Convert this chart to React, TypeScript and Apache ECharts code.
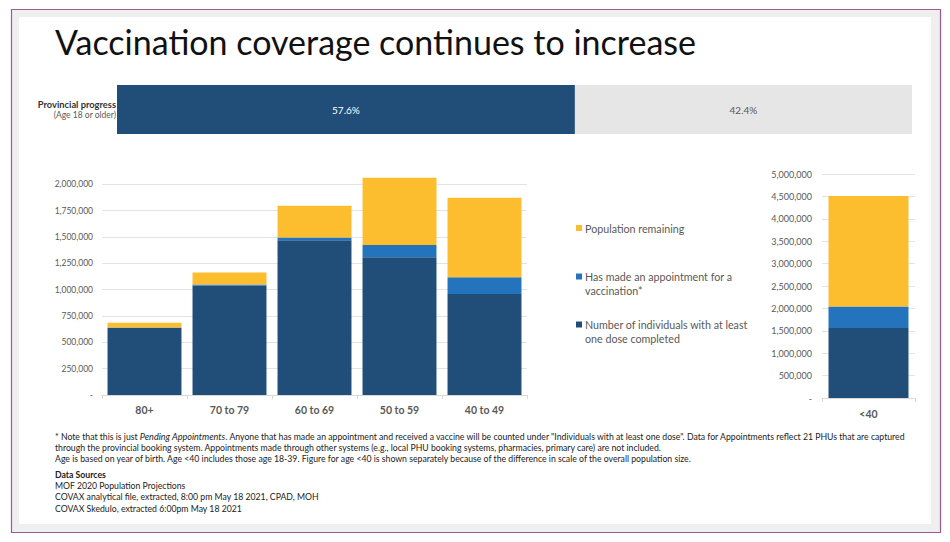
import React, { useEffect, useRef } from 'react';
import * as echarts from 'echarts';

// ---- Data ----
const ageGroups = ['80+', '70 to 79', '60 to 69', '50 to 59', '40 to 49'];
const dosed = [635000, 1040000, 1470000, 1308000, 960000];
const appointments = [6000, 8000, 25000, 117000, 158000];
const remaining = [44000, 114000, 302000, 638000, 755000];

const youngGroup = ['<40'];
const youngDosed = [1560000];
const youngAppointments = [480000];
const youngRemaining = [2470000];

const progressCategory = ['Provincial progress'];
const progressDone = [57.6];
const progressLeft = [42.4];

const seriesNames = [
  'Number of individuals with at least one dose completed',
  'Has made an appointment for a vaccination*',
  'Population remaining',
];

const legendLines: string[][] = [
  ['Population remaining'],
  ['Has made an appointment for a', 'vaccination*'],
  ['Number of individuals with at least', 'one dose completed'],
];

const footLines = [
  'through the provincial booking system. Appointments made through other systems (e.g., local PHU booking systems, pharmacies, primary care) are not included.',
  'Age is based on year of birth. Age <40 includes those age 18-39. Figure for age <40 is shown separately because of the difference in scale of the overall population size.',
];
const sourceLines = [
  'MOF 2020 Population Projections',
  'COVAX analytical file, extracted, 8:00 pm May 18 2021, CPAD, MOH',
  'COVAX Skedulo, extracted 6:00pm May 18 2021',
];

// ---- Style ----
const FONT = 'Lato, "Open Sans", sans-serif';
const NAVY = '#214e78';
const BLUE = '#2474bd';
const YELLOW = '#fcbd2e';
const LIGHT = '#e6e6e6';
const GREY_TEXT = '#595959';
const GRID_LINE = '#e3e3e3';
const FOOT = 8.7;

const fmt = (v: number) => (v === 0 ? '-' : v.toLocaleString('en-US'));

export default function App() {
  const ref = useRef<HTMLDivElement>(null);

  useEffect(() => {
    if (!ref.current) return;
    const chart = echarts.init(ref.current, undefined, { renderer: 'svg' });

    const colors = [NAVY, BLUE, YELLOW];
    const mainData = [dosed, appointments, remaining];
    const youngData = [youngDosed, youngAppointments, youngRemaining];

    const mainSplitColors = Array.from({ length: 10 }, (_, i) => (i === 9 ? 'rgba(0,0,0,0)' : GRID_LINE));

    const legendGraphic: any[] = [];
    const legendTops = [228, 276.5, 324.5];
    legendLines.forEach((lines, i) => {
      const color = [YELLOW, BLUE, NAVY][i];
      legendGraphic.push({
        type: 'rect',
        shape: { x: 576, y: legendTops[i] - 3, width: 6, height: 6 },
        style: { fill: color },
      });
      lines.forEach((t, j) => {
        legendGraphic.push({
          type: 'text',
          x: 585,
          y: legendTops[i] + j * 13.5,
          style: { text: t, fill: GREY_TEXT, font: `10.7px ${FONT}`, textVerticalAlign: 'middle' },
        });
      });
    });

    const option: any = {
      animation: false,
      textStyle: { fontFamily: FONT },
      grid: [
        { left: 102, top: 158, width: 425, height: 237 },
        { left: 822, top: 174, width: 93, height: 224 },
        { left: 117, top: 85, width: 795, height: 49 },
      ],
      xAxis: [
        {
          type: 'category',
          gridIndex: 0,
          data: ageGroups,
          axisLine: { lineStyle: { color: '#d9d9d9' } },
          axisTick: { show: true, length: 4, lineStyle: { color: '#d9d9d9' } },
          axisLabel: { color: GREY_TEXT, fontSize: 10.5, fontWeight: 'bold', margin: 9, fontFamily: FONT },
        },
        {
          type: 'category',
          gridIndex: 1,
          data: youngGroup,
          axisLine: { lineStyle: { color: '#d9d9d9' } },
          axisTick: { show: true, length: 4, lineStyle: { color: '#d9d9d9' } },
          axisLabel: { color: GREY_TEXT, fontSize: 10.5, fontWeight: 'bold', margin: 10, fontFamily: FONT },
        },
        { type: 'value', gridIndex: 2, min: 0, max: 100, show: false },
      ],
      yAxis: [
        {
          type: 'value',
          gridIndex: 0,
          min: 0,
          max: 2250000,
          interval: 250000,
          axisLine: { show: false },
          axisTick: { show: false },
          splitLine: { lineStyle: { color: mainSplitColors } },
          axisLabel: {
            color: GREY_TEXT,
            fontSize: 8.5,
            margin: 9,
            fontFamily: FONT,
            formatter: (v: number) => (v >= 2250000 ? '' : fmt(v)),
          },
        },
        {
          type: 'value',
          gridIndex: 1,
          min: 0,
          max: 5000000,
          interval: 500000,
          axisLine: { show: false },
          axisTick: { show: false },
          splitLine: { lineStyle: { color: GRID_LINE } },
          axisLabel: { color: GREY_TEXT, fontSize: 9, margin: 10, fontFamily: FONT, formatter: fmt },
        },
        { type: 'category', gridIndex: 2, data: progressCategory, show: false },
      ],
      series: [
        ...mainData.map((d, i) => ({
          name: seriesNames[i],
          type: 'bar',
          stack: 'main',
          xAxisIndex: 0,
          yAxisIndex: 0,
          data: d,
          barCategoryGap: '13%',
          itemStyle: { color: colors[i] },
        })),
        ...youngData.map((d, i) => ({
          name: seriesNames[i],
          type: 'bar',
          stack: 'young',
          xAxisIndex: 1,
          yAxisIndex: 1,
          data: d,
          barCategoryGap: '14%',
          itemStyle: { color: colors[i] },
        })),
        {
          name: 'Provincial progress: at least one dose',
          type: 'bar',
          stack: 'progress',
          xAxisIndex: 2,
          yAxisIndex: 2,
          data: progressDone,
          barWidth: '100%',
          itemStyle: { color: NAVY },
          label: {
            show: true,
            position: 'inside',
            color: '#ffffff',
            fontSize: 10,
            fontFamily: FONT,
            formatter: (p: any) => `${p.value}%`,
          },
        },
        {
          name: 'Provincial progress: remaining',
          type: 'bar',
          stack: 'progress',
          xAxisIndex: 2,
          yAxisIndex: 2,
          data: progressLeft,
          barWidth: '100%',
          itemStyle: { color: LIGHT },
          label: {
            show: true,
            position: 'inside',
            color: GREY_TEXT,
            fontSize: 10,
            fontFamily: FONT,
            formatter: (p: any) => `${p.value}%`,
          },
        },
      ],
      graphic: [
        {
          type: 'rect',
          z: -10,
          shape: { x: 11.5, y: 9.5, width: 929, height: 523 },
          style: { fill: '#efefef', stroke: '#9c5a98', lineWidth: 1.2 },
        },
        {
          type: 'rect',
          z: -9,
          shape: { x: 19, y: 17, width: 912, height: 507 },
          style: { fill: '#ffffff' },
        },
        {
          type: 'text',
          x: 55,
          y: 41,
          style: {
            text: 'Vaccination coverage continues to increase',
            fill: '#111111',
            font: `34px ${FONT}`,
            textVerticalAlign: 'middle',
          },
        },
        {
          type: 'text',
          x: 116,
          y: 104,
          style: {
            text: 'Provincial progress',
            fill: '#333333',
            font: `bold 9.3px ${FONT}`,
            textAlign: 'right',
            textVerticalAlign: 'middle',
          },
        },
        {
          type: 'text',
          x: 116,
          y: 115,
          style: {
            text: '(Age 18 or older)',
            fill: GREY_TEXT,
            font: `8.5px ${FONT}`,
            textAlign: 'right',
            textVerticalAlign: 'middle',
          },
        },
        ...legendGraphic,
        {
          type: 'text',
          x: 55,
          y: 436,
          style: {
            text:
              '{n|* Note that this is just }{i|Pending Appointments}{n|. Anyone that has made an appointment and received a vaccine will be counted under "Individuals with at least one dose". Data for Appointments reflect 21 PHUs that are captured}',
            rich: {
              n: { fill: '#222222', fontSize: FOOT, fontFamily: FONT },
              i: { fill: '#222222', fontSize: FOOT + 0.4, fontFamily: FONT, fontStyle: 'italic' },
            },
            textVerticalAlign: 'middle',
          },
        },
        ...footLines.map((t, i) => ({
          type: 'text',
          x: 55,
          y: 447 + i * 11,
          style: { text: t, fill: '#222222', font: `${FOOT}px ${FONT}`, textVerticalAlign: 'middle' },
        })),
        {
          type: 'text',
          x: 55,
          y: 474,
          style: { text: 'Data Sources', fill: '#222222', font: `bold ${FOOT}px ${FONT}`, textVerticalAlign: 'middle' },
        },
        ...sourceLines.map((t, i) => ({
          type: 'text',
          x: 55,
          y: 485.5 + i * 11.3,
          style: { text: t, fill: '#222222', font: `${FOOT}px ${FONT}`, textVerticalAlign: 'middle' },
        })),
      ],
    };

    chart.setOption(option);
    return () => chart.dispose();
  }, []);

  return (
    <div
      ref={ref}
      style={{ position: 'fixed', left: 0, top: 0, width: 950, height: 542, background: '#ffffff' }}
    />
  );
}
